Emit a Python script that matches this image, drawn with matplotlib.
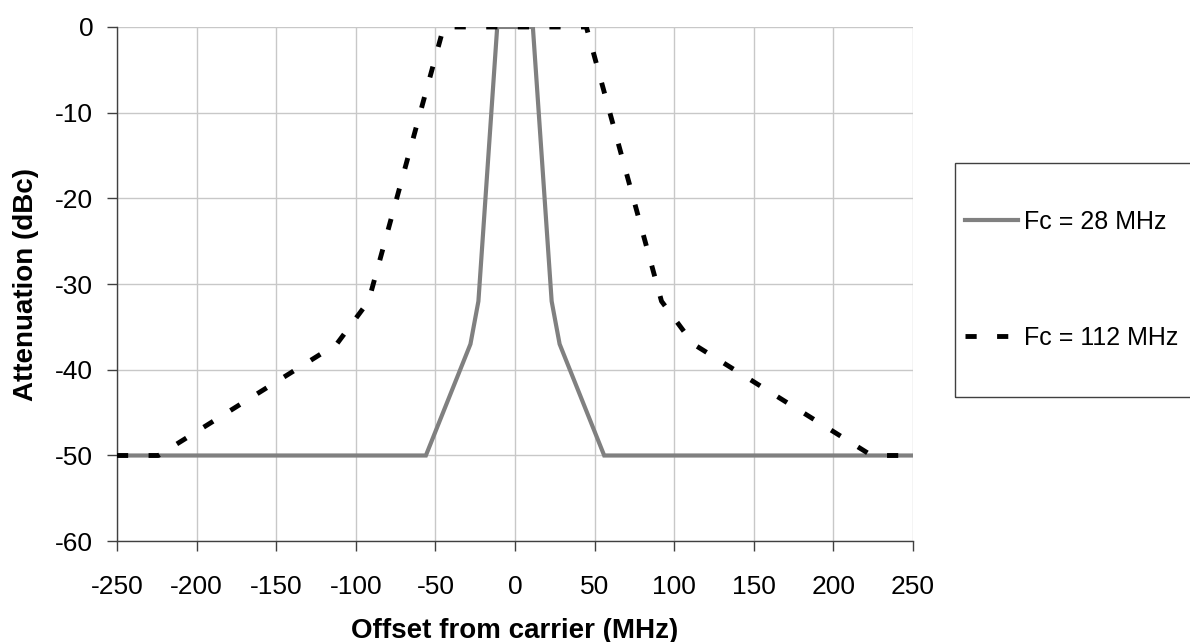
import matplotlib.pyplot as plt
from matplotlib.patches import Rectangle

plt.rcParams['font.family'] = ['Liberation Sans', 'DejaVu Sans']
plt.rcParams['axes.unicode_minus'] = False

# Спектральные маски (смещение, МГц / ослабление, дБc)
offset_28 = [-250, -56, -28, -23, -11.2, 11.2, 23, 28, 56, 250]
atten_28 = [-50, -50, -37, -32, 0, 0, -32, -37, -50, -50]

offset_112 = [-250, -224, -112, -92, -44.8, 44.8, 92, 112, 224, 250]
atten_112 = [-50, -50, -37, -32, 0, 0, -32, -37, -50, -50]

labels = ['Fc = 28 MHz', 'Fc = 112 MHz']
x_ticks = list(range(-250, 251, 50))
y_ticks = list(range(-60, 1, 10))

fig = plt.figure(figsize=(11.9, 6.42), dpi=100)
ax = fig.add_axes([0.0983, 0.157, 0.669, 0.801])

l1, = ax.plot(offset_28, atten_28, color='#808080', linewidth=3.0,
              solid_joinstyle='miter', zorder=3)
l2, = ax.plot(offset_112, atten_112, color='black', linewidth=3.5,
              linestyle=(0, (2.3, 4.2)), dash_capstyle='butt', zorder=4)

ax.set_xlim(-250, 250)
ax.set_ylim(-60, 0)
ax.set_xticks(x_ticks)
ax.set_yticks(y_ticks)
ax.grid(True, color='#c8c8c8', linewidth=1.0)
ax.set_axisbelow(True)

for side in ['top', 'right']:
    ax.spines[side].set_visible(False)
for side in ['left', 'bottom']:
    ax.spines[side].set_color('#404040')
    ax.spines[side].set_linewidth(1.0)

ax.tick_params(direction='out', length=7, width=1, color='#404040', labelsize=19)
ax.tick_params(axis='x', pad=17)
ax.tick_params(axis='y', pad=10)

ax.set_xlabel('Offset from carrier (MHz)', fontsize=20, fontweight='bold', labelpad=14)
ax.set_ylabel('Attenuation (dBc)', fontsize=20, fontweight='bold', labelpad=12)

# рамка легенды
fig.patches.append(Rectangle((0.8025, 0.382), 0.25, 0.364, transform=fig.transFigure,
                             fill=False, edgecolor='#404040', linewidth=1.0))

fig.legend([l1, l2], labels, loc='center left', bbox_to_anchor=(0.811, 0.564),
           frameon=False, fontsize=18, handlelength=2.1, handletextpad=0.25,
           labelspacing=3.7, borderaxespad=0, borderpad=0)

plt.savefig('out.png', dpi=100)
